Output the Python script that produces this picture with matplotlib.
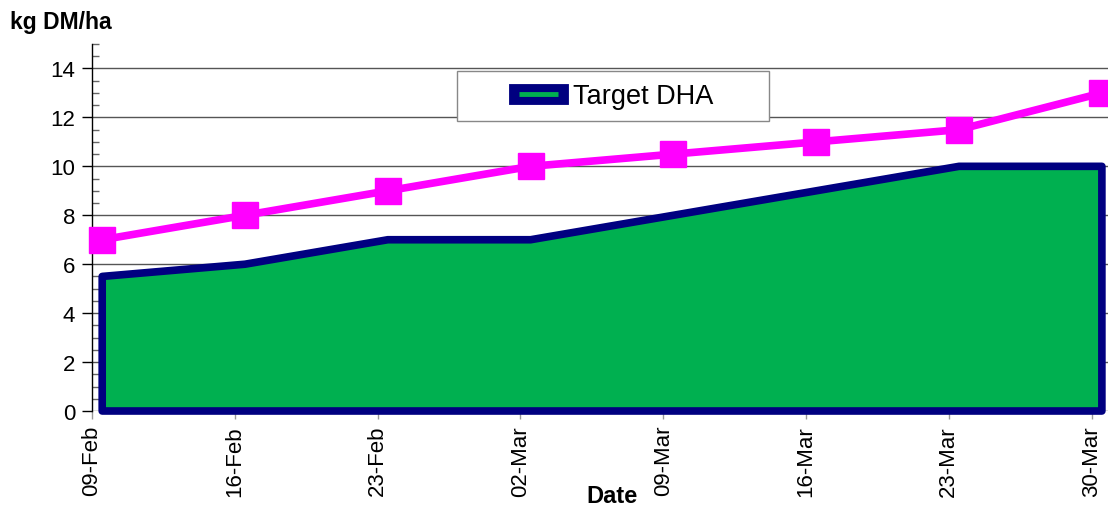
import numpy as np
import matplotlib.pyplot as plt
from matplotlib.lines import Line2D
from matplotlib.patches import Rectangle
from matplotlib.ticker import MultipleLocator

plt.rcParams['font.family'] = ['Liberation Sans', 'DejaVu Sans']

dates = ['09-Feb', '16-Feb', '23-Feb', '02-Mar', '09-Mar', '16-Mar', '23-Mar', '30-Mar']
target_dha = [5.5, 6, 7, 7, 8, 9, 10, 10]
actual = [7, 8, 9, 10, 10.5, 11, 11.5, 13]

days = np.arange(len(dates)) * 7
xd = days + 0.5  # points sit a little right of the tick (excel date axis)

W, H = 1108, 506
fig = plt.figure(figsize=(W/100, H/100), dpi=100)
ax = fig.add_axes([92/W, 1-412/H, 1-92/W, (412-45)/H])

# green area with navy outline
poly_x = np.concatenate([[xd[0]], xd, [xd[-1]]])
poly_y = np.concatenate([[0], target_dha, [0]])
ax.fill(poly_x, poly_y, facecolor='#00B050', edgecolor='#000080', lw=5.5,
        joinstyle='round', zorder=2, clip_on=False)

ax.plot(xd, actual, color='#FF00FF', lw=5.5, marker='s', ms=18.5, zorder=3, clip_on=False)

ax.set_xlim(0, 49.8)
ax.set_ylim(0, 15)
ax.set_yticks(np.arange(0, 15, 2))
ax.yaxis.set_minor_locator(MultipleLocator(0.5))
ax.set_xticks(days)
ax.set_xticklabels(dates, rotation=90, fontsize=16)
ax.tick_params(axis='y', which='major', labelsize=16, length=7, width=1, direction='out', pad=5)
ax.tick_params(axis='y', which='minor', length=5, width=1, direction='in', color='#666666')
ax.tick_params(axis='x', length=6, width=1, color='#999999', pad=4)

ax.grid(axis='y', color='#555555', lw=1, zorder=0)
ax.set_axisbelow(True)
for s in ['top', 'right', 'bottom']:
    ax.spines[s].set_visible(False)
ax.spines['left'].set_linewidth(1)

fig.text(10/W, 1-22/H, 'kg DM/ha', fontsize=16.5, fontweight='bold', va='center', ha='left')
fig.text(612/W, 1-503/H, 'Date', fontsize=17, fontweight='bold', va='baseline', ha='center')

# legend frame drawn separately so the entry stays centred in a wide box
fig.patches.append(Rectangle((457/W, 1-122/H), 312/W, 50/H, transform=fig.transFigure,
                             facecolor='white', edgecolor='#888888', lw=1, zorder=4))
h_out = Line2D([], [], color='#000080', lw=15, solid_capstyle='projecting')
h_in = Line2D([], [], color='#00B050', lw=3.5, solid_capstyle='butt')
leg = fig.legend([(h_out, h_in)], ['Target DHA'], loc='center',
                 bbox_to_anchor=(616/W, 1-97/H), fontsize=19.5, frameon=False,
                 handlelength=1.45, handletextpad=0.55, borderpad=0, borderaxespad=0)
leg.set_zorder(5)

fig.savefig('out.png', dpi=100)
